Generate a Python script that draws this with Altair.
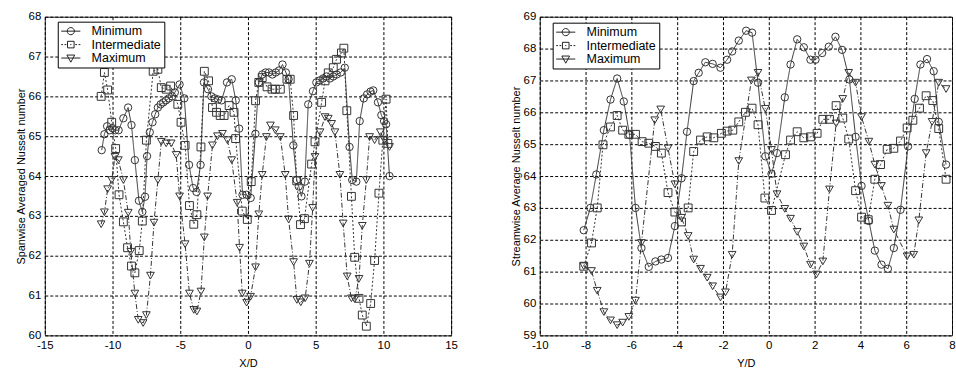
import altair as alt
import pandas as pd

FONT = "Liberation Sans"
SERIES = ["Minimum", "Intermediate", "Maximum"]

# ---------------- Left panel (X/D) ----------------
L_MIN_X = [-10.8, -10.6, -10.4, -10.2, -10.0, -9.8, -9.55, -9.2, -8.85, -8.6, -8.35, -8.05, -7.8, -7.6,
           -7.45, -7.25, -7.05, -6.85, -6.65, -6.45, -6.25, -6.05, -5.85, -5.6, -5.4, -5.05, -4.7, -4.35, -4.05, -3.8,
           -3.5, -3.25, -2.95, -2.7, -2.45, -2.2, -1.95, -1.55, -1.2, -0.9, -0.65, -0.4, -0.1, 0.2,
           0.55, 0.8, 1.05, 1.3, 1.55, 1.8, 2.05, 2.3, 2.55, 2.8, 3.0, 3.35, 3.6, 3.75, 3.95, 4.2,
           4.45, 4.8, 5.05, 5.3, 5.55, 5.8, 6.05, 6.3, 6.55, 6.85, 7.15, 7.5, 7.7, 8.0,
           8.25, 8.55, 8.8, 9.05, 9.25, 9.6, 9.85, 10.05, 10.2, 10.45]
L_MIN_Y = [64.65, 65.05, 65.25, 65.15, 65.2, 65.15, 65.15, 65.45, 65.72, 65.28, 64.4, 63.38, 63.1, 63.48,
           64.5, 65.1, 65.35, 65.55, 65.72, 65.8, 65.85, 65.9, 65.95, 66.0, 66.1, 66.3, 65.95, 64.28, 63.7, 63.6,
           64.28, 66.35, 66.18, 66.0, 65.95, 65.92, 65.9, 66.35, 66.43, 65.9, 65.19, 63.53, 63.53, 63.45,
           65.06, 66.35, 66.55, 66.6, 66.6, 66.55, 66.6, 66.65, 66.8, 66.6, 66.43, 64.77, 63.9, 63.74, 63.49, 63.86,
           65.8, 66.13, 66.35, 66.4, 66.45, 66.5, 66.45, 66.5, 66.55, 66.6, 66.72, 64.73, 63.9, 63.86,
           65.38, 65.95, 66.05, 66.12, 66.15, 65.85, 65.53, 65.38, 65.3, 64.0]

L_INT_X = [-10.84, -10.6, -10.36, -10.06, -9.77, -9.52, -9.2, -8.89, -8.6, -8.35, -8.03, -7.8,
           -7.5, -7.0, -6.65, -6.4, -6.04, -5.71, -5.18, -4.94, -4.64, -4.32, -4.0, -3.77,
           -3.47, -3.22, -2.91, -2.62, -2.32, -2.05, -1.76, -1.39, -1.03, -0.91, -0.42, -0.05,
           0.24, 0.56, 0.8, 1.05, 1.41, 1.78, 2.02, 2.39, 2.88, 3.12, 3.37, 3.6, 3.88, 4.17,
           4.7, 4.95, 5.44, 5.69, 5.93, 6.3, 6.54, 6.9, 7.08, 7.3, 7.64, 7.88, 8.2, 8.44, 8.74,
           9.06, 9.35, 9.67, 9.96, 10.2, 10.33]
L_INT_Y = [66.0, 66.6, 66.16, 65.35, 64.69, 63.53, 62.85, 62.2, 61.74, 61.57, 62.13, 62.87,
           64.9, 66.63, 66.68, 66.22, 66.18, 66.26, 65.8, 65.35, 64.77, 63.26, 62.79, 63.03,
           64.73, 66.63, 66.39, 65.72, 65.6, 65.52, 65.52, 65.77, 65.6, 64.94, 63.12, 62.91,
           63.86, 65.89, 66.35, 66.47, 66.24, 66.18, 66.18, 66.18, 66.43, 66.43, 65.52, 63.88, 62.78, 62.93,
           64.3, 64.86, 65.85, 66.39, 66.59, 66.72, 66.93, 67.09, 67.21, 65.64, 63.49, 61.96, 60.93, 60.51, 60.23,
           60.8, 61.88, 63.57, 64.9, 65.93, 64.82]

L_MAX_X = [-10.84, -10.6, -10.36, -10.06, -9.82, -9.57, -9.2, -8.84, -8.65, -8.35, -8.1, -7.74, -7.5, -7.2,
           -6.94, -6.65, -6.4, -6.04, -5.67, -5.3, -5.05, -4.64, -4.32, -4.0, -3.77, -3.47, -3.22, -2.98,
           -2.62, -2.25, -1.88, -1.52, -1.2, -0.8, -0.62, -0.42, -0.1, 0.19, 0.56, 0.8,
           1.05, 1.36, 1.66, 2.02, 2.39, 2.75, 3.0, 3.37, 3.61, 3.9, 4.22, 4.54, 4.78,
           4.95, 5.32, 5.69, 5.93, 6.18, 6.42, 6.79, 7.03, 7.33, 7.64, 7.88, 8.2, 8.44, 8.74,
           8.98, 9.35, 9.77, 10.08, 10.45]
L_MAX_Y = [62.79, 63.09, 63.67, 63.9, 64.48, 64.4, 63.9, 63.08, 62.1, 61.05, 60.39, 60.31, 60.51, 61.5,
           62.83, 63.9, 64.86, 64.82, 64.82, 64.53, 63.49, 62.29, 61.05, 60.64, 60.6, 61.1, 62.46, 63.49,
           64.77, 65.0, 65.06, 64.9, 64.4, 63.33, 62.2, 61.05, 60.82, 60.97, 61.71, 63.04,
           64.03, 64.98, 65.27, 65.15, 64.98, 64.03, 62.91, 61.84, 60.89, 60.83, 60.93, 61.8, 63.2,
           64.48, 65.1, 65.48, 65.44, 65.31, 65.1, 64.03, 62.81, 61.48, 60.93, 60.91, 61.42, 62.75, 63.9,
           64.98, 64.9, 65.1, 64.9, 64.73]

# ---------------- Right panel (Y/D) ----------------
R_MIN_X = [-8.08, -7.79, -7.53, -7.2, -6.91, -6.62, -6.33, -6.08, -5.82, -5.56, -5.24, -4.95, -4.69, -4.4,
           -4.1, -3.81, -3.57, -3.28, -3.06, -2.77, -2.45, -2.11, -1.82, -1.6, -1.31, -0.99, -0.73, -0.47,
           -0.15, 0.12, 0.36, 0.7, 0.95, 1.24, 1.53, 1.82, 2.04, 2.33, 2.62, 2.91, 3.2, 3.52, 3.79,
           4.05, 4.37, 4.63, 4.92, 5.2, 5.46, 5.75, 6.08, 6.37, 6.62, 6.91, 7.2, 7.42, 7.74]
R_MIN_Y = [62.3, 63.0, 64.05, 65.44, 66.4, 67.06, 66.34, 65.29, 63.0, 61.74, 61.15, 61.32, 61.38, 61.43,
           62.43, 63.93, 65.39, 66.98, 67.24, 67.57, 67.52, 67.4, 67.65, 67.91, 68.25, 68.56, 68.5, 66.93,
           64.62, 64.07, 64.72, 66.47, 67.5, 68.29, 68.04, 67.65, 67.65, 67.86, 68.06, 68.37, 67.96, 67.03, 65.23,
           63.69, 62.59, 61.66, 61.22, 61.09, 61.74, 62.94, 64.93, 66.42, 67.5, 67.67, 67.29, 65.7, 64.36]

R_INT_X = [-8.08, -7.74, -7.49, -7.24, -6.91, -6.62, -6.38, -6.11, -5.82, -5.53, -5.24, -4.95, -4.69,
           -4.4, -4.1, -3.81, -3.52, -3.28, -2.98, -2.69, -2.4, -2.07, -1.82, -1.57, -1.31, -1.02, -0.73,
           -0.47, -0.17, 0.12, 0.73, 0.95, 1.24, 1.53, 1.82, 2.11, 2.36, 2.65, 2.94, 3.23, 3.49,
           3.79, 4.05, 4.34, 4.63, 4.88, 5.17, 5.46, 5.75, 6.04, 6.29, 6.58, 6.87, 7.16, 7.42, 7.74]
R_INT_Y = [61.17, 61.9, 63.0, 64.98, 65.54, 65.9, 65.44, 65.31, 65.31, 65.08, 65.03, 64.93, 64.72,
           63.48, 62.87, 62.56, 63.0, 64.77, 65.13, 65.23, 65.2, 65.34, 65.41, 65.44, 65.7, 66.0, 66.13,
           65.61, 63.31, 62.92, 64.67, 65.13, 65.39, 65.2, 65.23, 65.34, 65.78, 65.78, 66.21, 65.82, 65.16,
           63.54, 62.71, 62.63, 63.9, 64.36, 64.84, 64.87, 65.1, 65.51, 65.75, 66.13, 66.52, 66.37, 65.49, 63.9]

R_MAX_X = [-8.08, -7.74, -7.49, -7.2, -6.91, -6.62, -6.38, -6.11, -5.82, -5.56, -4.98, -4.72, -4.4,
           -4.1, -3.81, -3.52, -3.28, -2.98, -2.69, -2.45, -2.11, -1.89, -1.6, -1.31, -0.76, -0.47, -0.15,
           0.12, 0.36, 0.7, 0.95, 1.24, 1.53, 1.82, 2.08, 2.36, 2.65, 2.94, 3.23, 3.49, 3.79, 4.05,
           4.37, 4.63, 4.92, 5.2, 5.46, 6.04, 6.33, 6.55, 6.87, 7.13, 7.42, 7.74]
R_MAX_Y = [61.17, 61.02, 60.4, 59.73, 59.47, 59.32, 59.4, 59.58, 60.09, 61.9, 65.75, 66.09, 64.87,
           63.74, 62.69, 62.12, 61.38, 61.09, 60.81, 60.54, 60.19, 60.35, 61.53, 64.47, 67.0, 67.24, 66.11,
           64.82, 63.43, 62.97, 62.66, 62.25, 61.79, 61.22, 60.91, 61.32, 63.58, 65.65, 66.42, 67.24, 66.93, 65.85,
           65.08, 64.36, 63.69, 63.07, 62.32, 61.48, 61.53, 62.61, 64.72, 65.7, 66.93, 66.73]

L_X_TICKS = [-15, -10, -5, 0, 5, 10, 15]
L_Y_TICKS = [60, 61, 62, 63, 64, 65, 66, 67, 68]
R_X_TICKS = [-10, -8, -6, -4, -2, 0, 2, 4, 6, 8]
R_Y_TICKS = [59, 60, 61, 62, 63, 64, 65, 66, 67, 68, 69]

INK = "#333333"
SHAPES = {"Minimum": "circle", "Intermediate": "square", "Maximum": "triangle-down"}
SIZES = {"Minimum": 55, "Intermediate": 62, "Maximum": 60}
DASHES = {"Minimum": [1, 0], "Intermediate": [2, 2], "Maximum": [5, 2, 1, 2]}
# legend glyphs: a short line segment with the series marker (1 unit = 6 px)
LEGEND_PATHS = [
    "M-1,0H2.2M0,0A0.6,0.6 0 1,1 1.2,0A0.6,0.6 0 1,1 0,0",
    "M-1,0H-0.7M-0.45,0H-0.15M1.35,0H1.65M1.9,0H2.2M0.5,0H0.7M0.05,-0.55H1.15V0.55H0.05Z",
    "M-1,0H2.2M-0.05,-0.5H1.25L0.6,0.7Z",
]


def frame(xs, ys, name):
    return pd.DataFrame({"x": xs, "y": ys, "series": name, "idx": list(range(len(xs)))})


def panel(data, xdom, ydom, xticks, yticks, xtitle, ytitle, legx, legy, w, h):
    df = pd.concat([frame(*d) for d in data], ignore_index=True)
    xs = alt.Scale(domain=xdom, nice=False, zero=False)
    ys = alt.Scale(domain=ydom, nice=False, zero=False)
    xax = alt.Axis(values=xticks, title=xtitle, labelExpr="toString(datum.value)",
                   labelFlush=False, titlePadding=7)
    yax = alt.Axis(values=yticks, title=ytitle, labelExpr="toString(datum.value)",
                   labelFlush=False, titlePadding=2)
    base = alt.Chart(df)
    layers = []
    for s in SERIES:
        sub = base.transform_filter(alt.datum.series == s)
        layers.append(
            sub.mark_line(color=INK, strokeWidth=1, strokeDash=DASHES[s]).encode(
                x=alt.X("x:Q", scale=xs, axis=xax),
                y=alt.Y("y:Q", scale=ys, axis=yax),
                order="idx:Q",
            )
        )
    for s in SERIES:
        sub = base.transform_filter(alt.datum.series == s)
        layers.append(
            sub.mark_point(shape=SHAPES[s], filled=False, color=INK, strokeWidth=1,
                           size=SIZES[s], opacity=1).encode(
                x=alt.X("x:Q", scale=xs, axis=xax),
                y=alt.Y("y:Q", scale=ys, axis=yax),
            )
        )
    legend_layer = base.mark_point(filled=False, color=INK, opacity=0).encode(
        x=alt.X("x:Q", scale=xs, axis=xax),
        y=alt.Y("y:Q", scale=ys, axis=yax),
        shape=alt.Shape(
            "series:N",
            scale=alt.Scale(domain=SERIES, range=LEGEND_PATHS),
            legend=alt.Legend(
                title=None, orient="none", legendX=legx, legendY=legy,
                symbolOpacity=1, symbolSize=144, symbolStrokeColor="#222",
                symbolStrokeWidth=1, fillColor="white", strokeColor="#000",
                padding=3, rowPadding=0.5, labelFontSize=12.5, labelFont=FONT,
                labelColor="#000", labelOffset=18,
                labelExpr="datum.label + '\u00a0\u00a0'",
            ),
        ),
    )
    layers.append(legend_layer)
    return alt.layer(*layers).properties(width=w, height=h)


left = panel(
    [(L_MIN_X, L_MIN_Y, "Minimum"), (L_INT_X, L_INT_Y, "Intermediate"), (L_MAX_X, L_MAX_Y, "Maximum")],
    [-15, 15], [60, 68], L_X_TICKS, L_Y_TICKS, "X/D", "Spanwise Averaged Nusselt number", 13, 5, 408, 320,
)
right = panel(
    [(R_MIN_X, R_MIN_Y, "Minimum"), (R_INT_X, R_INT_Y, "Intermediate"), (R_MAX_X, R_MAX_Y, "Maximum")],
    [-10, 8], [59, 69], R_X_TICKS, R_Y_TICKS, "Y/D", "Streamwise Average Nusselt number", 13, 6, 414, 320,
)

chart = (
    alt.hconcat(left, right, spacing=51)
    .resolve_scale(shape="independent")
    .properties(padding={"left": 14, "top": 9, "right": 0, "bottom": 2}, background="white")
    .configure_view(stroke="#222", strokeWidth=1)
    .configure_axis(
        grid=True, gridColor="#000", gridDash=[3, 2], gridOpacity=1, gridWidth=1,
        domain=False, ticks=False, labelFont=FONT, labelFontSize=11.5, labelColor="#000",
        labelPadding=4, titleFont=FONT, titleFontSize=11, titleFontWeight="normal",
        titleColor="#000",
    )
)

chart.save("out.html", embed_options={"renderer": "svg", "actions": False})
